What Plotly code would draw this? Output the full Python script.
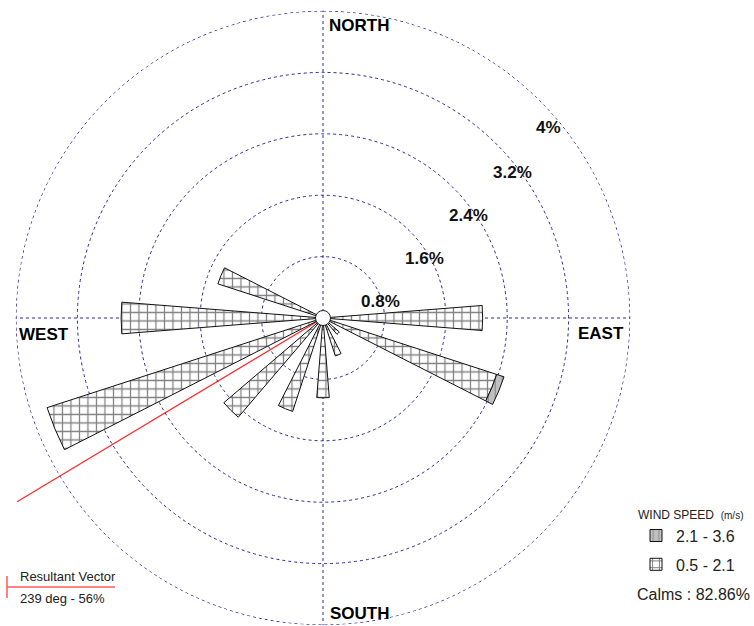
import math
import plotly.graph_objects as go

# ---------------- data ----------------
DIRECTIONS = ["N", "NNE", "NE", "ENE", "E", "ESE", "SE", "SSE",
              "S", "SSW", "SW", "WSW", "W", "WNW", "NW", "NNW"]
DIRECTION_DEG = [0, 22.5, 45, 67.5, 90, 112.5, 135, 157.5,
                 180, 202.5, 225, 247.5, 270, 292.5, 315, 337.5]
SPEED_LOW_LABEL = "0.5 - 2.1"
SPEED_HIGH_LABEL = "2.1 - 3.6"
SPEED_LOW = [0, 0, 0, 0, 2.08, 2.38, 0.28, 0.52,
             1.04, 1.28, 1.70, 3.78, 2.63, 1.44, 0, 0]
SPEED_HIGH = [0, 0, 0, 0, 0, 0.10, 0, 0,
              0, 0, 0, 0, 0, 0, 0, 0]
RING_TICKS = [0.8, 1.6, 2.4, 3.2, 4.0]
RING_LABELS = ["0.8%", "1.6%", "2.4%", "3.2%", "4%"]
COMPASS_LABELS = ["NORTH", "EAST", "SOUTH", "WEST"]
CALMS_PCT = "82.86%"
RESULTANT_DEG = 239
RESULTANT_PCT = 56

# ---------------- layout geometry / style ----------------
W, H = 754, 626
CX, CY = 323, 318                  # polar centre in pixels
S = 307 / 4.0                      # pixels per percent
RMAX = 4.004
R = S * RMAX
GRID = "#2a2a9a"
FONT = "Arial, Liberation Sans, sans-serif"
BAR_WIDTH = 9
VECTOR_LEN = 4.65


def px(x):
    return x / W


def py(y):
    return 1 - y / H


fig = go.Figure()

# outermost (4%) ring, drawn as a dotted circle on the polar scale
ring_theta = list(range(0, 361, 2))
fig.add_trace(go.Scatterpolar(
    r=[RING_TICKS[-1]] * len(ring_theta), theta=ring_theta, mode="lines",
    line=dict(color=GRID, width=1, dash="dot"), showlegend=False, hoverinfo="skip",
))

fig.add_trace(go.Barpolar(
    r=SPEED_LOW, theta=DIRECTION_DEG, width=[BAR_WIDTH] * len(DIRECTION_DEG),
    name=SPEED_LOW_LABEL, legendgroup="low", legendrank=2,
    marker=dict(color="white", line=dict(color="#111", width=1),
                pattern=dict(shape="+", size=8.5, solidity=0.27,
                             fgcolor="#000", bgcolor="white", fillmode="overlay")),
    hovertext=DIRECTIONS,
))
fig.add_trace(go.Barpolar(
    r=SPEED_HIGH, theta=DIRECTION_DEG, width=[BAR_WIDTH] * len(DIRECTION_DEG),
    name=SPEED_HIGH_LABEL, legendgroup="high", legendrank=1,
    marker=dict(color="#c0c0c0", line=dict(color="#111", width=1),
                pattern=dict(shape="|", size=7, solidity=0.15,
                             fgcolor="#444", bgcolor="#c0c0c0", fillmode="overlay")),
    hovertext=DIRECTIONS,
))

# calm circle at the centre
fig.add_trace(go.Scatterpolar(
    r=[0], theta=[0], mode="markers", showlegend=False,
    marker=dict(size=15, color="white", line=dict(color="#222", width=1)),
))

# resultant vector on a transparent cartesian overlay (extends beyond rings)
th = math.radians(RESULTANT_DEG)
fig.add_trace(go.Scatter(
    x=[0, VECTOR_LEN * math.sin(th)], y=[0, VECTOR_LEN * math.cos(th)],
    mode="lines", line=dict(color="#ff2a2a", width=1.3), showlegend=False,
    xaxis="x", yaxis="y",
))

fig.update_layout(
    width=W, height=H, autosize=False,
    margin=dict(l=0, r=0, t=0, b=0),
    paper_bgcolor="white", plot_bgcolor="rgba(0,0,0,0)",
    font=dict(family=FONT, color="#111"),
    xaxis=dict(visible=False, range=[-CX / S, (W - CX) / S], domain=[0, 1], fixedrange=True),
    yaxis=dict(visible=False, range=[-(H - CY) / S, CY / S], domain=[0, 1], fixedrange=True),
    polar=dict(
        domain=dict(x=[px(CX - R), px(CX + R)], y=[max(0, py(CY + R)), py(CY - R)]),
        bgcolor="rgba(0,0,0,0)",
        barmode="stack",
        radialaxis=dict(range=[0, RMAX], tickvals=RING_TICKS, showticklabels=False,
                        ticks="", showline=False, gridcolor=GRID, griddash="dot",
                        gridwidth=1),
        angularaxis=dict(rotation=90, direction="clockwise",
                         tickvals=[0, 90, 180, 270], showticklabels=False, ticks="",
                         showline=False, gridcolor=GRID, griddash="dot", gridwidth=1),
    ),
    legend=dict(
        x=px(636), y=py(503), xanchor="left", yanchor="top",
        traceorder="grouped", tracegroupgap=5,
        font=dict(size=16, family=FONT, color="#222"),
        title=dict(text="WIND SPEED  <span style='font-size:10px'>(m/s)</span>",
                   font=dict(size=12, family=FONT, color="#222"), side="top"),
        bgcolor="rgba(0,0,0,0)",
    ),
)

ann = []
# radial ring labels
ring_pos = [(380, 302), (424, 258), (468, 215), (512, 172), (548, 127)]
for lab, (x, y) in zip(RING_LABELS, ring_pos):
    ann.append(dict(text="<b>%s</b>" % lab, x=px(x), y=py(y), xref="paper", yref="paper",
                    xanchor="center", yanchor="middle",
                    showarrow=False, font=dict(size=17, family=FONT, color="#111")))
# compass labels
compass_pos = [(327, 25, "left"), (601, 333, "center"), (328, 613, "left"), (44, 334, "center")]
for lab, (x, y, xa) in zip(COMPASS_LABELS, compass_pos):
    ann.append(dict(text="<b>%s</b>" % lab, x=px(x), y=py(y), xref="paper", yref="paper",
                    xanchor=xa, yanchor="middle", showarrow=False,
                    font=dict(size=17, family=FONT, color="#000")))
# calms
ann.append(dict(text="Calms : %s" % CALMS_PCT, x=px(752), y=py(594), xref="paper", yref="paper",
                xanchor="right", yanchor="middle", showarrow=False,
                font=dict(size=16, family=FONT, color="#222")))
# resultant vector key
ann.append(dict(text="Resultant Vector", x=px(18), y=py(576), xref="paper", yref="paper",
                xanchor="left", yanchor="middle", showarrow=False,
                font=dict(size=13, family=FONT, color="#222")))
ann.append(dict(text="%d deg - %d%%" % (RESULTANT_DEG, RESULTANT_PCT), x=px(18), y=py(598),
                xref="paper", yref="paper", xanchor="left", yanchor="middle", showarrow=False,
                font=dict(size=13, family=FONT, color="#222")))
fig.update_layout(annotations=ann)

fig.update_layout(shapes=[
    dict(type="line", xref="paper", yref="paper", x0=px(7), x1=px(115), y0=py(587), y1=py(587),
         line=dict(color="#ff5a5a", width=1.5)),
    dict(type="line", xref="paper", yref="paper", x0=px(7), x1=px(7), y0=py(576), y1=py(598),
         line=dict(color="#ff5a5a", width=1.5)),
])

fig.write_html("out.html", config={"displayModeBar": False},
               post_script="document.body.style.margin='0';")
